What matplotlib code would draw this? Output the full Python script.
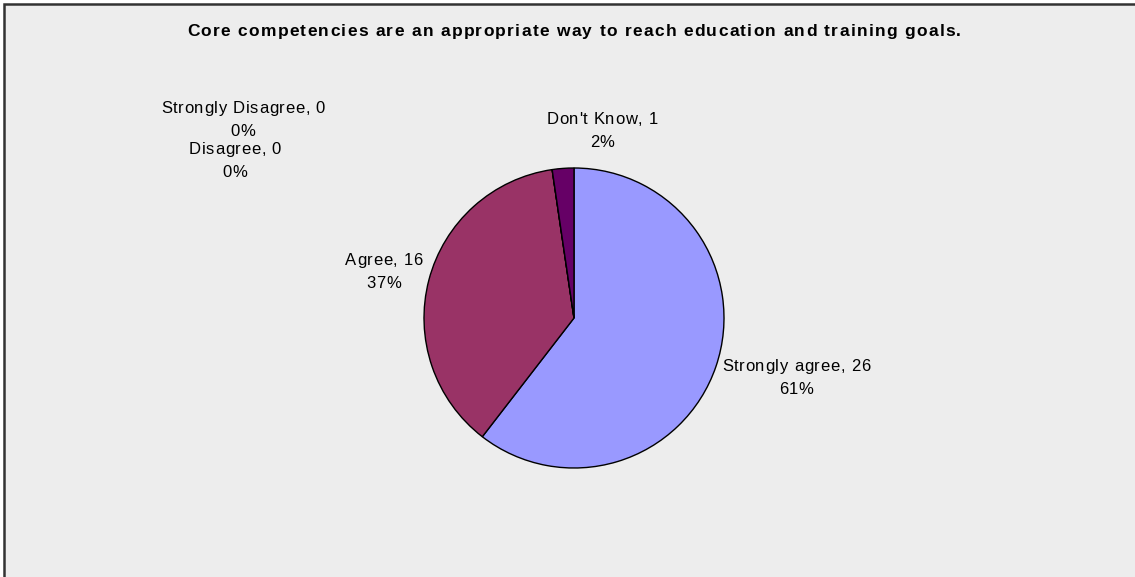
import matplotlib.pyplot as plt
from matplotlib.patches import Rectangle
from matplotlib.font_manager import FontProperties, findfont, get_font

plt.rcParams['font.family'] = ['Liberation Sans', 'DejaVu Sans']

# survey answers
categories = ["Strongly agree", "Agree", "Disagree", "Strongly Disagree", "Don't Know"]
counts = [26, 16, 0, 0, 1]
colors = ["#9999FF", "#993366", "#FFFFCC", "#CCFFFF", "#660066"]
title = "Core competencies are an appropriate way to reach education and training goals."

# label anchor: centre x and first-line baseline, pixels from top-left
label_pos = {
    "Strongly agree": (796, 371),
    "Agree": (384, 265),
    "Disagree": (235, 154),
    "Strongly Disagree": (243, 113),
    "Don't Know": (602, 124),
}

W, H = 1135, 577
DPI = 100


def percents(vals):
    # whole percentages that add up to 100 (largest remainder)
    tot = sum(vals)
    raw = [v * 100 / tot for v in vals]
    out = [int(r) for r in raw]
    rest = sorted(range(len(vals)), key=lambda i: raw[i] - out[i], reverse=True)
    for i in rest[:100 - sum(out)]:
        out[i] += 1
    return out


def spaced_text(ax, x, y, s, size, weight="normal", track=0.0):
    # draw a line of text centred on x with extra letter spacing (pixels)
    prop = FontProperties(family="Liberation Sans", size=size, weight=weight)
    font = get_font(findfont(prop))
    font.set_size(size, DPI)
    adv = [font.load_char(ord(c)).linearHoriAdvance / 65536 for c in s]
    total = sum(adv) + track * (len(s) - 1)
    cx = x - total / 2
    for c, a in zip(s, adv):
        if c != " ":
            ax.text(cx, H - y, c, fontproperties=prop, ha="left", va="baseline")
        cx += a + track


fig = plt.figure(figsize=(W / DPI, H / DPI), dpi=DPI)
ax = fig.add_axes([0, 0, 1, 1])

# chart area with top/left frame
ax.add_patch(Rectangle((4, 0), W, H - 4, facecolor="#EDEDED", edgecolor="none", zorder=0))
ax.plot([4, 4, W], [0, H - 4, H - 4], color="#333333", lw=1.8, zorder=1,
        solid_capstyle="butt", solid_joinstyle="miter")

ax.pie(counts, colors=colors, startangle=90, counterclock=False,
       center=(574, H - 318), radius=150, frame=True,
       wedgeprops=dict(edgecolor="black", linewidth=1.0))
ax.set_xlim(0, W)
ax.set_ylim(0, H)
ax.axis("off")

for name, v, p in zip(categories, counts, percents(counts)):
    x, y = label_pos[name]
    spaced_text(ax, x, y, f"{name}, {v}", 12, track=0.7)
    spaced_text(ax, x, y + 23, f"{p}%", 12, track=0.7)

spaced_text(ax, 574, 36, title, 12.5, weight="bold", track=1.3)

fig.savefig("out.png", dpi=DPI, facecolor="white")
